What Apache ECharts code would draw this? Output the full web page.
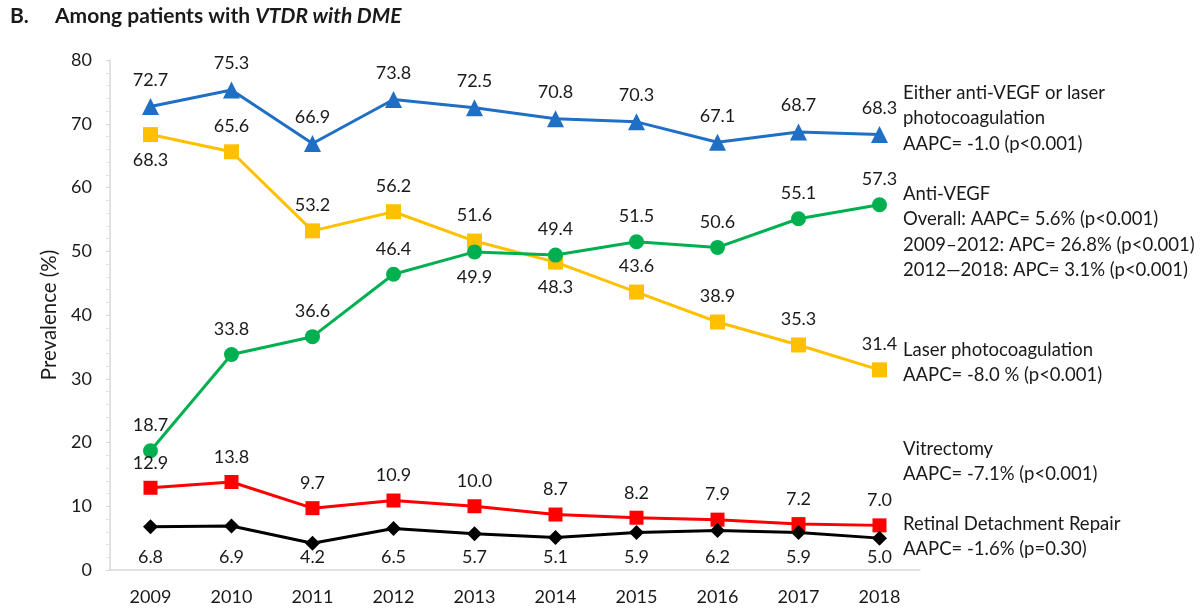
<!DOCTYPE html>
<html>
<head>
<meta charset="utf-8">
<title>Among patients with VTDR with DME</title>
<script src="https://cdn.jsdelivr.net/npm/echarts@6/dist/echarts.min.js"></script>
<style>
  html, body { margin: 0; padding: 0; background: #fff; }
  #chart { width: 1203px; height: 610px; }
</style>
</head>
<body>
<div id="chart"></div>
<script>
// Treatment prevalence by year (%)
const years = ['2009', '2010', '2011', '2012', '2013', '2014', '2015', '2016', '2017', '2018'];
const eitherTreatment = [72.7, 75.3, 66.9, 73.8, 72.5, 70.8, 70.3, 67.1, 68.7, 68.3];
const laserPhoto = [68.3, 65.6, 53.2, 56.2, 51.6, 48.3, 43.6, 38.9, 35.3, 31.4];
const antiVegf = [18.7, 33.8, 36.6, 46.4, 49.9, 49.4, 51.5, 50.6, 55.1, 57.3];
const vitrectomy = [12.9, 13.8, 9.7, 10.9, 10.0, 8.7, 8.2, 7.9, 7.2, 7.0];
const rdRepair = [6.8, 6.9, 4.2, 6.5, 5.7, 5.1, 5.9, 6.2, 5.9, 5.0];
const yTicks = [0, 10, 20, 30, 40, 50, 60, 70, 80];

// Trend annotations shown to the right of the plot
const notes = [
  { lines: ['Either anti-VEGF or laser', 'photocoagulation', 'AAPC= -1.0 (p<0.001)'], top: 80 },
  { lines: ['Anti-VEGF', 'Overall: AAPC= 5.6% (p<0.001)', '2009\u20132012: APC= 26.8% (p<0.001)', '2012\u20142018: APC= 3.1% (p<0.001)'], top: 181 },
  { lines: ['Laser photocoagulation', 'AAPC= -8.0 % (p<0.001)'], top: 337 },
  { lines: ['Vitrectomy', 'AAPC= -7.1% (p<0.001)'], top: 436 },
  { lines: ['Retinal Detachment Repair', 'AAPC= -1.6% (p=0.30)'], top: 511 }
];

const FONT = 'Lato, "Open Sans", sans-serif';
const TEXT = '#1a1a1a';

const GRID = { left: 110, right: 283, top: 60, bottom: 40 };
const pxPerUnit = (610 - GRID.top - GRID.bottom) / (yTicks[yTicks.length - 1] - yTicks[0]);

function labelled(values, belowIdx) {
  return values.map((v, i) => ({
    value: v,
    label: { position: belowIdx.indexOf(i) >= 0 ? 'bottom' : 'top' }
  }));
}

function lineSeries(name, values, color, symbol, size, belowIdx) {
  return {
    name: name,
    type: 'line',
    data: labelled(values, belowIdx),
    symbol: symbol,
    symbolSize: size,
    lineStyle: { color: color, width: 3 },
    itemStyle: { color: color },
    label: {
      show: true,
      distance: 9,
      color: TEXT,
      fontFamily: FONT,
      fontSize: 18,
      formatter: p => p.value.toFixed(1)
    },
    emphasis: { disabled: true },
    animation: false
  };
}

// Retinal detachment repair labels sit on a common row just above the x axis
function baselineLabels(values, rowValue) {
  return values.map(v => ({
    value: v,
    label: { position: 'inside', offset: [0, (v - rowValue) * pxPerUnit] }
  }));
}

const chart = echarts.init(document.getElementById('chart'));

const graphics = [{
  type: 'text',
  left: 10,
  top: 6,
  style: { text: 'B.', fontFamily: FONT, fontSize: 21, fontWeight: 'bold', fill: TEXT }
}, {
  type: 'text',
  left: 55,
  top: 6,
  style: {
    text: '{b|Among patients with }{bi|VTDR with DME}',
    rich: {
      b: { fontFamily: FONT, fontSize: 21, fontWeight: 'bold', fill: TEXT },
      bi: { fontFamily: FONT, fontSize: 21, fontWeight: 'bold', fontStyle: 'italic', fill: TEXT }
    }
  }
}];
notes.forEach(n => {
  graphics.push({
    type: 'text',
    left: 903,
    top: n.top,
    style: {
      text: n.lines.join('\n'),
      fontFamily: FONT,
      fontSize: 18.5,
      lineHeight: 25.5,
      fill: TEXT
    }
  });
});

const rdSeries = lineSeries('Retinal Detachment Repair', rdRepair, '#000000', 'diamond', 15, []);
rdSeries.data = baselineLabels(rdRepair, 2.0);

chart.setOption({
  backgroundColor: '#fff',
  animation: false,
  grid: GRID,
  xAxis: {
    type: 'category',
    data: years,
    boundaryGap: true,
    axisLine: { lineStyle: { color: '#d9d9d9', width: 1.5 } },
    axisTick: { show: false },
    axisLabel: { color: TEXT, fontFamily: FONT, fontSize: 18, margin: 18 }
  },
  yAxis: {
    type: 'value',
    min: yTicks[0],
    max: yTicks[yTicks.length - 1],
    interval: yTicks[1] - yTicks[0],
    name: 'Prevalence (%)',
    nameLocation: 'middle',
    nameGap: 48,
    nameTextStyle: { color: TEXT, fontFamily: FONT, fontSize: 20.5 },
    axisLine: { show: true, lineStyle: { color: '#d9d9d9', width: 1.5 } },
    axisTick: { show: true, inside: false, length: 4, lineStyle: { color: '#d9d9d9' } },
    minorTick: { show: true, splitNumber: 5, length: 4, lineStyle: { color: '#e3e3e3' } },
    splitLine: { show: false },
    axisLabel: { color: TEXT, fontFamily: FONT, fontSize: 18, margin: 18 }
  },
  series: [
    lineSeries('Either anti-VEGF or laser photocoagulation', eitherTreatment, '#1F6FC5', 'triangle', 17, []),
    lineSeries('Laser photocoagulation', laserPhoto, '#FFC000', 'rect', 15, [0, 5]),
    lineSeries('Anti-VEGF', antiVegf, '#00B050', 'circle', 15, [4]),
    lineSeries('Vitrectomy', vitrectomy, '#FF0000', 'rect', 14, []),
    rdSeries
  ],
  graphic: graphics
});
</script>
</body>
</html>
